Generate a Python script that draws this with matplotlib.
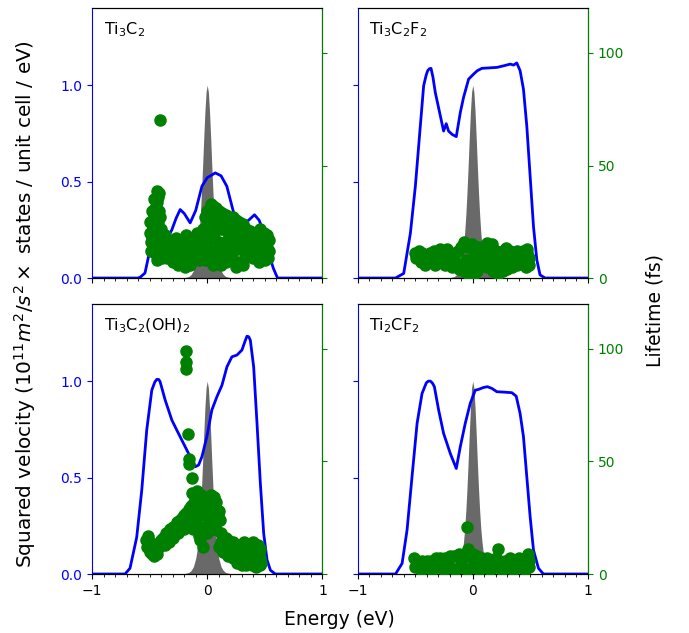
import matplotlib
matplotlib.use('Agg')
import matplotlib.pyplot as plt
from matplotlib.ticker import MultipleLocator

# Panel titles
titles = [r'Ti$_3$C$_2$', r'Ti$_3$C$_2$F$_2$', r'Ti$_3$C$_2$(OH)$_2$', r'Ti$_2$CF$_2$']

# Fermi window (gray)
fw_e = [-0.2, -0.16, -0.14, -0.12, -0.1, -0.09, -0.08, -0.07, -0.06, -0.05, -0.04, -0.03, -0.02, -0.01, 0.0,
        0.01, 0.02, 0.03, 0.04, 0.05, 0.06, 0.07, 0.08, 0.09, 0.1, 0.12, 0.14, 0.16, 0.2]
fw_v = [0.002, 0.008, 0.018, 0.038, 0.081, 0.116, 0.168, 0.235, 0.328, 0.443, 0.58, 0.728, 0.864, 0.964, 1.0,
        0.964, 0.864, 0.728, 0.58, 0.443, 0.328, 0.235, 0.168, 0.116, 0.081, 0.038, 0.018, 0.008, 0.002]

# Squared velocity curves (blue)
v1_e = [-1, -0.6, -0.58, -0.54, -0.51, -0.45, -0.4, -0.35, -0.307, -0.27, -0.235, -0.2, -0.148, -0.1, -0.046,
        0.0, 0.07, 0.12, 0.17, 0.23, 0.3, 0.36, 0.41, 0.45, 0.49, 0.533, 0.574, 0.61, 1]
v1_v = [0, 0, 0.005, 0.026, 0.11, 0.21, 0.22, 0.2, 0.25, 0.31, 0.355, 0.335, 0.286, 0.35, 0.476,
        0.52, 0.545, 0.53, 0.476, 0.337, 0.275, 0.3, 0.328, 0.3, 0.24, 0.128, 0.05, 0, 0]

v2_e = [-1, -0.67, -0.599, -0.541, -0.498, -0.455, -0.426, -0.405, -0.391, -0.376, -0.362, -0.345, -0.325,
        -0.281, -0.253, -0.23, -0.21, -0.18, -0.143, -0.108, -0.08, -0.036, 0.007, 0.04, 0.079, 0.21, 0.267,
        0.325, 0.354, 0.382, 0.411, 0.44, 0.469, 0.498, 0.527, 0.556, 0.584, 0.628, 1]
v2_v = [0, 0, 0.024, 0.233, 0.476, 0.788, 0.997, 1.05, 1.075, 1.085, 1.087, 1.04, 0.962,
        0.84, 0.762, 0.8, 0.762, 0.745, 0.733, 0.858, 0.936, 1.031, 1.057, 1.075, 1.087, 1.092, 1.1,
        1.109, 1.104, 1.115, 1.075, 0.979, 0.788, 0.528, 0.267, 0.094, 0.016, 0, 0]

v3_e = [-1, -0.713, -0.67, -0.612, -0.568, -0.525, -0.481, -0.455, -0.438, -0.42, -0.409, -0.365, -0.307,
        -0.264, -0.206, -0.148, -0.104, -0.075, -0.046, -0.003, 0.04, 0.084, 0.128, 0.171, 0.214, 0.258,
        0.301, 0.33, 0.345, 0.36, 0.374, 0.403, 0.432, 0.461, 0.49, 0.519, 0.548, 0.59, 1]
v3_v = [0, 0, 0.03, 0.19, 0.435, 0.746, 0.953, 0.995, 1.009, 1.008, 0.997, 0.902, 0.798,
        0.746, 0.677, 0.608, 0.556, 0.565, 0.608, 0.712, 0.85, 0.919, 0.979, 1.074, 1.126, 1.135,
        1.161, 1.21, 1.233, 1.23, 1.212, 1.074, 0.781, 0.47, 0.21, 0.073, 0.02, 0, 0]

v4_e = [-1, -0.67, -0.613, -0.57, -0.527, -0.483, -0.44, -0.403, -0.385, -0.368, -0.35, -0.333, -0.296,
        -0.253, -0.195, -0.143, -0.108, -0.065, -0.022, 0.022, 0.05, 0.094, 0.128, 0.166, 0.209, 0.267,
        0.339, 0.377, 0.411, 0.44, 0.469, 0.498, 0.527, 0.57, 0.613, 1]
v4_v = [0, 0, 0.055, 0.228, 0.504, 0.781, 0.936, 0.991, 1.0, 1.0, 0.99, 0.971, 0.85,
        0.729, 0.625, 0.547, 0.66, 0.781, 0.884, 0.953, 0.957, 0.967, 0.971, 0.962, 0.945, 0.943,
        0.94, 0.922, 0.832, 0.712, 0.504, 0.297, 0.124, 0.03, 0, 0]

# Lifetimes (green points)
t1_e = [-0.41, -0.42, -0.43, -0.44, -0.45, -0.46, -0.47, -0.48, -0.47, -0.46, -0.48, -0.49, -0.47, -0.49, -0.45,
        -0.44, -0.43, -0.42, -0.41, -0.40, -0.39, -0.44, -0.42,
        -0.38, -0.35, -0.33, -0.30, -0.28, -0.25, -0.22, -0.2, -0.17, -0.14, -0.11, -0.08, -0.06, -0.35, -0.30,
        -0.25, -0.2, -0.15, -0.12, -0.37, -0.27, -0.18, -0.09,
        -0.04, -0.02, 0.0, 0.02, 0.05, 0.08, 0.1, 0.13, 0.16, 0.19, 0.22, 0.25, 0.28, 0.31, 0.34, 0.37, 0.4,
        0.43, 0.46, 0.49, 0.52, 0.54, 0.53, 0.5, 0.46, 0.42, 0.38, 0.33, 0.28, 0.25, 0.22, 0.18, 0.14, 0.1,
        0.06, 0.02, 0.0, 0.03, 0.08, 0.13, 0.18, 0.24, 0.3, 0.36, 0.46, 0.2, 0.12, 0.05, -0.02, 0.46, 0.35, 0.54,
        -0.5, -0.5, -0.48, -0.46, -0.44, -0.45, -0.41, -0.39, -0.36, -0.32, -0.29, -0.26, -0.23, -0.21, -0.19,
        -0.16, -0.13, -0.1, -0.07, -0.05, -0.03, 0.01, 0.04, 0.07, 0.1, 0.15, 0.2, 0.26, 0.32, 0.38, 0.42,
        0.48, 0.51, 0.16, 0.22, 0.28, 0.34, 0.4, 0.07, 0.11, 0.16, 0.31, 0.45, 0.52, 0.49, 0.03]
t1_t = [70, 38, 36, 34, 31, 28, 26, 24, 22, 20, 18, 16, 14, 12, 11,
        17, 25, 30, 27, 22, 19, 8, 14,
        15, 13, 16, 14, 12, 15, 13, 16, 14, 12, 15, 13, 17, 9, 7,
        6, 8, 6, 9, 19, 18, 19, 20,
        22, 27, 30, 31, 32, 31, 30, 29, 28, 27, 27, 26, 25, 24, 22, 21, 20,
        18, 17, 16, 14, 12, 9, 8, 10, 12, 11, 9, 7, 5, 8, 11, 13, 16,
        18, 20, 14, 10, 24, 22, 20, 18, 16, 15, 22, 14, 6, 6, 8, 13, 19, 17,
        20, 25, 30, 35, 38.5, 24, 11, 9, 16, 11, 17, 10, 17, 10, 5,
        17, 16, 10, 8, 11, 16, 24, 26, 28, 22, 25, 24, 21, 19, 17, 15,
        12, 10, 16, 12, 13, 12, 9, 12, 9, 7, 6, 7, 19, 20, 33]

t2_e = [-0.5, -0.49, -0.46, -0.43, -0.4, -0.37, -0.34, -0.31, -0.28, -0.25, -0.22, -0.19, -0.16, -0.13, -0.1,
        -0.07, -0.04, -0.01, 0.02, 0.05, 0.08, 0.11, 0.14, 0.17, 0.2, 0.23, 0.26, 0.29, 0.32, 0.35, 0.38, 0.41,
        0.44, 0.47, 0.49, 0.49, 0.46, 0.42, 0.38, 0.34, 0.3, 0.26, 0.22, 0.18, -0.37, -0.3, -0.24, -0.18,
        -0.12, -0.08, -0.04, 0.0, 0.04, 0.08, 0.12, -0.06, 0.0, 0.1, 0.16, 0.25, 0.33, 0.42, -0.45, -0.2,
        -0.47, -0.44, -0.41, -0.35, -0.33, -0.27, -0.21, -0.15, -0.1, -0.02, 0.02, 0.06, 0.13, 0.19, 0.22,
        0.28, 0.31, 0.36, 0.4, 0.45, 0.48, 0.47, 0.12, -0.08, 0.29]
t2_t = [11, 9, 10, 8, 9, 11, 12, 10, 13, 12, 13, 11, 9, 12, 14,
        15, 14, 15, 13, 14, 12, 13, 12, 15, 12, 11, 12, 11, 12, 10, 12, 11,
        12, 11, 9, 6, 5, 7, 6, 5, 4, 3, 2, 3, 7, 7, 6, 5,
        4, 3, 2, 1, 3, 6, 5, 8, 9, 9, 8, 8, 9, 9, 7, 9,
        12, 11, 6, 9, 6, 9, 7, 7, 6, 5, 7, 10, 9, 7, 9,
        7, 6, 8, 7, 8, 10, 13, 15.5, 16, 13.5]

t3_e = [-0.18, -0.185, -0.185, -0.17, -0.155, -0.16, -0.135, -0.13,
        -0.53, -0.52, -0.5, -0.48, -0.46, -0.44, -0.42, -0.4, -0.38, -0.36, -0.34, -0.32, -0.3, -0.28,
        -0.26, -0.24, -0.22, -0.2, -0.18, -0.16, -0.14, -0.12, -0.3, -0.25, -0.2, -0.15, -0.5, -0.45,
        -0.1, -0.08, -0.06, -0.04, -0.02, 0.0, 0.02, 0.04, 0.06, 0.08, 0.1, 0.08, -0.1, -0.08, -0.06, -0.04,
        0.0, 0.02, -0.12,
        0.04, 0.08, 0.12, 0.16, 0.2, 0.24, 0.28, 0.32, 0.36, 0.4, 0.44, 0.46,
        0.1, 0.14, 0.18, 0.22, 0.26, 0.3, 0.34, 0.38, 0.42, 0.46, 0.46, 0.44, 0.4, 0.36, 0.32, 0.28, 0.24, 0.2,
        -0.51, -0.48, -0.46, -0.44, -0.41, -0.37, -0.35, -0.33, -0.31, -0.27, -0.23, -0.21, -0.17, -0.13,
        -0.11, -0.09, -0.05, -0.03, 0.01, 0.03, 0.06, 0.09, 0.11, 0.06, -0.03, -0.07,
        0.14, 0.18, 0.22, 0.26, 0.3, 0.34, 0.38, 0.42, 0.45, 0.43, 0.39, 0.35, 0.31, 0.27, 0.23, 0.19, 0.16,
        0.12, 0.47]
t3_t = [99, 94, 91, 62, 51, 49, 42.5, 36,
        15, 12, 10, 9, 11, 13, 12, 15, 16, 18, 17, 20, 21, 19,
        23, 24, 25, 26, 27, 29, 30, 31, 16, 18, 20, 22, 14, 10,
        35, 33, 30, 28, 26, 29, 27, 31, 29, 32, 28, 24, 25, 20, 15, 12,
        18, 22, 20,
        22, 20, 18, 16, 14, 13, 13, 14, 13, 14, 13, 11,
        12, 10, 8, 7, 5, 4, 4, 5, 3, 4, 7, 9, 8, 9, 8, 9, 10, 11,
        17, 13, 8, 9, 14, 13, 15, 14, 18, 21, 22, 23, 24, 27,
        33, 37, 35, 32, 33, 35, 34, 26, 24, 20, 21, 17,
        16, 15, 14, 12, 11, 12, 11, 12, 9, 6, 4, 6, 6, 7, 9, 10, 12,
        14, 5]

t4_e = [-0.05, 0.22, -0.04, 0.0,
        -0.51, -0.48, -0.44, -0.4, -0.36, -0.32, -0.28, -0.24, -0.2, -0.16, -0.12, -0.08, -0.04, 0.0, 0.04,
        0.08, 0.12, 0.16, 0.2, 0.24, 0.28, 0.32, 0.36, 0.4, 0.44, 0.48, 0.49,
        -0.5, -0.45, -0.4, -0.35, -0.3, -0.25, -0.2, -0.15, -0.1, -0.05, 0.0, 0.05, 0.1, 0.15, 0.2, 0.25,
        0.3, 0.35, 0.4, 0.45, 0.49, -0.42, -0.22, 0.02, 0.18, 0.34,
        -0.46, -0.3, -0.1, 0.1, 0.3, 0.44, 0.48]
t4_t = [21, 11, 11, 9,
        7, 6, 6, 6, 6, 7, 7, 7, 8, 8, 9, 9, 8, 7, 8,
        7, 7, 6, 7, 6, 6, 7, 6, 7, 6, 9, 6,
        3, 2, 3, 2, 3, 2, 3, 2, 3, 2, 3, 2, 3, 2, 3, 2,
        3, 2, 3, 2, 3, 4.5, 4.5, 4.5, 4.5, 4.5,
        4, 5, 5, 5, 5, 4.5, 7]

vel = [(v1_e, v1_v), (v2_e, v2_v), (v3_e, v3_v), (v4_e, v4_v)]
life = [(t1_e, t1_t), (t2_e, t2_t), (t3_e, t3_t), (t4_e, t4_t)]

fig, axes = plt.subplots(2, 2, sharex=True, sharey=True, figsize=(6.89, 6.33), dpi=100)
fig.subplots_adjust(left=0.1335, right=0.8534, bottom=0.0932, top=0.9874, wspace=0.152, hspace=0.096)

for i, ax in enumerate(axes.flat):
    ax.fill_between(fw_e, 0, fw_v, color='dimgray', lw=0)
    ax.plot(vel[i][0], vel[i][1], color='blue', lw=2)
    ax.set_xlim(-1, 1)
    ax.set_ylim(0, 1.4)
    ax.set_xticks([-1, 0, 1])
    ax.xaxis.set_minor_locator(MultipleLocator(0.1))
    ax.yaxis.set_major_locator(MultipleLocator(0.5))
    ax.tick_params(axis='y', colors='blue')
    ax.spines['left'].set_color('blue')
    ax.text(0.05, 0.92, titles[i], transform=ax.transAxes, fontsize=11.5, va='center', ha='left')

    tw = ax.twinx()
    tw.scatter(life[i][0], life[i][1], color='green', s=64, zorder=3)
    tw.set_ylim(0, 120)
    tw.yaxis.set_major_locator(MultipleLocator(50))
    tw.tick_params(axis='y', colors='green')
    tw.spines['right'].set_color('green')
    tw.spines['left'].set_visible(False)
    if i % 2 == 0:
        tw.tick_params(labelright=False)

fig.text(0.493, 0.021, 'Energy (eV)', ha='center', va='center', fontsize=13.5)
fig.text(0.036, 0.52, r'Squared velocity ($10^{11} m^2/s^2 \times$ states / unit cell / eV)',
         ha='center', va='center', rotation=90, fontsize=14.4)
fig.text(0.951, 0.51, 'Lifetime (fs)', ha='center', va='center', rotation=90, fontsize=13.5)

plt.savefig('out.png', dpi=100)
plt.close()
